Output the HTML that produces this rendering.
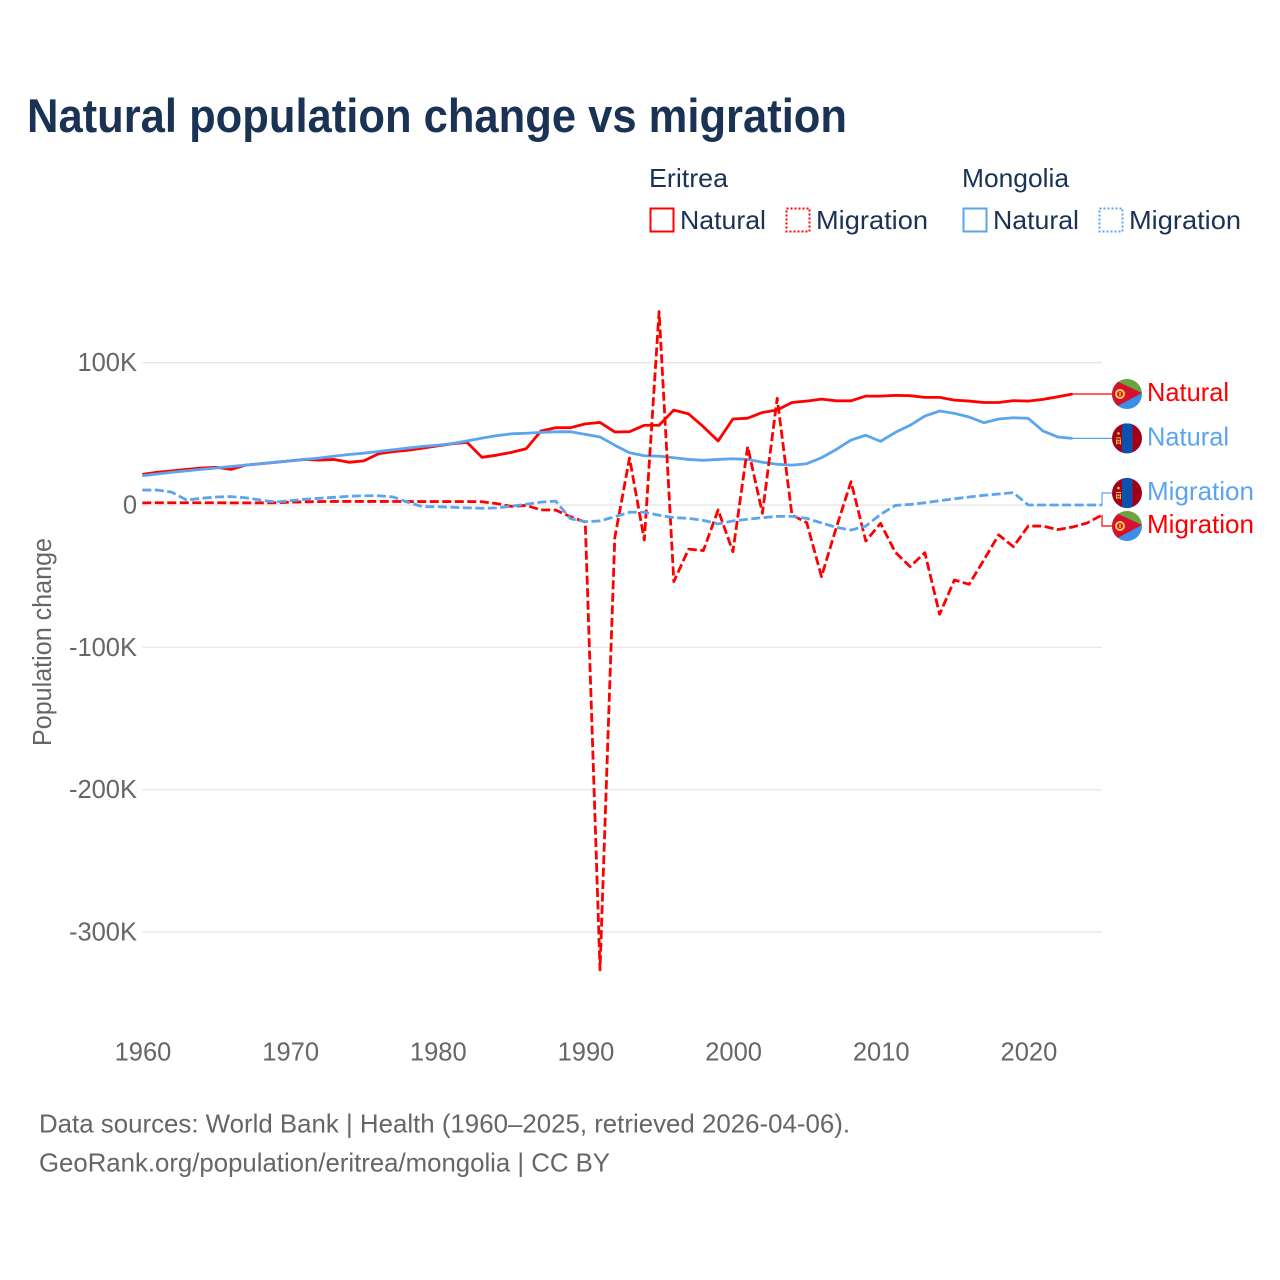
<!DOCTYPE html>
<html lang="en">
<head>
<meta charset="utf-8">
<title>Natural population change vs migration</title>
<style>
html,body{margin:0;padding:0;background:#fff;}
svg{display:block;font-family:"Liberation Sans",sans-serif;}
.legend-text{font-size:26px;fill:#1a3354;}
.tick{font-size:25.5px;fill:#666;}
.src{font-size:26px;fill:#666;}
</style>
</head>
<body>
<svg id="chart" xmlns="http://www.w3.org/2000/svg" width="1280" height="1280" viewBox="0 0 1280 1280">
  <defs>
    <clipPath id="flag-clip"><circle cx="0" cy="0" r="15"/></clipPath>
    <g id="flag-er" clip-path="url(#flag-clip)">
      <rect x="-15" y="-15" width="30" height="15" fill="#6aa33f"/>
      <rect x="-15" y="0" width="30" height="15" fill="#3a8fe8"/>
      <polygon points="-15,-15 15,-1 -15,15" fill="#d8102f"/>
      <circle cx="-7" cy="0" r="4" fill="none" stroke="#f7ce46" stroke-width="2"/>
      <rect x="-7.7" y="-2" width="1.4" height="4" fill="#f7ce46"/>
    </g>
    <g id="flag-mn" clip-path="url(#flag-clip)">
      <rect x="-15" y="-15" width="30" height="30" fill="#a20018"/>
      <rect x="-5" y="-15" width="10.5" height="30" fill="#0a52ad"/>
      <rect x="-11" y="-1" width="5" height="1" fill="#f5c542"/>
      <rect x="-11" y="1" width="1.2" height="5" fill="#f5c542"/>
      <rect x="-7.2" y="1" width="1.2" height="5" fill="#f5c542"/>
      <rect x="-9.4" y="1.5" width="1.8" height="1.4" fill="#f5c542"/>
      <rect x="-9.4" y="4" width="1.8" height="1.4" fill="#f5c542"/>
      <circle cx="-8.5" cy="-5" r="1.3" fill="#f5c542"/>
    </g>
  </defs>

  <text x="27" y="132" font-size="47" font-weight="700" fill="#1a3354" textLength="820" lengthAdjust="spacingAndGlyphs">Natural population change vs migration</text>

  <g>
    <text class="legend-text" x="649" y="187" textLength="79" lengthAdjust="spacingAndGlyphs">Eritrea</text>
    <text class="legend-text" x="962" y="187" textLength="107" lengthAdjust="spacingAndGlyphs">Mongolia</text>

    <rect x="650.5" y="208.5" width="23" height="23" fill="none" stroke="#ff0000" stroke-width="2"/>
    <text class="legend-text" x="680" y="229" textLength="86" lengthAdjust="spacingAndGlyphs">Natural</text>
    <rect x="786.5" y="208.5" width="23" height="23" fill="none" stroke="#ff0000" stroke-width="2" stroke-dasharray="2 2"/>
    <text class="legend-text" x="816" y="229" textLength="112" lengthAdjust="spacingAndGlyphs">Migration</text>

    <rect x="963.5" y="208.5" width="23" height="23" fill="none" stroke="#5ba4ee" stroke-width="2"/>
    <text class="legend-text" x="993" y="229" textLength="86" lengthAdjust="spacingAndGlyphs">Natural</text>
    <rect x="1099.5" y="208.5" width="23" height="23" fill="none" stroke="#5ba4ee" stroke-width="2" stroke-dasharray="2 2"/>
    <text class="legend-text" x="1129" y="229" textLength="112" lengthAdjust="spacingAndGlyphs">Migration</text>
  </g>

  <text class="tick" transform="translate(51 642) rotate(-90)" text-anchor="middle" textLength="208" lengthAdjust="spacingAndGlyphs">Population change</text>

  <g id="grid"></g>
  <g id="y-ticks"></g>
  <g id="x-ticks"></g>
  <g id="series"></g>
  <g id="labels"></g>

  <text class="src" x="39" y="1132.5" textLength="811" lengthAdjust="spacingAndGlyphs">Data sources: World Bank | Health (1960–2025, retrieved 2026-04-06).</text>
  <text class="src" x="39" y="1171.5" textLength="571" lengthAdjust="spacingAndGlyphs">GeoRank.org/population/eritrea/mongolia | CC BY</text>
</svg>

<script>
const firstYear = 1960;
const xTickYears = [1960, 1970, 1980, 1990, 2000, 2010, 2020];
const yTickValues = [100, 0, -100, -200, -300];
const yTickLabels = ['100K', '0', '-100K', '-200K', '-300K'];

const eritreaNatural = [
  21.5,23,24,25,26,26.5,25,28,29,30,
  31,32,31.5,32,30,31,36,37.5,38.5,40,
  41.5,43,44,33.5,35,37,39.5,52,54.3,54.3,
  57,58,51.3,51.5,56,56,66.7,64,55,45,
  60.4,61,65,66.7,72,73,74.4,73.2,73.2,76.5,
  76.5,77,76.8,75.6,75.6,73.7,73,72,72,73.3,
  73,74.2,76,78
];
const mongoliaNatural = [
  20.6,21.8,23,24,25,26,27,28,29,30,
  31,32,33,34.3,35.5,36.4,37.6,38.8,40,41.2,
  42,43.2,45,47,48.7,50,50.4,51,51.4,51.5,
  49.6,47.8,42,36.7,34.6,34.3,33.2,32,31.4,32,
  32.5,32,30,28.6,28,29,33.2,39,45.6,49,
  44.7,51,56,62.5,66,64.4,61.8,57.8,60.4,61.3,
  60.9,52,47.8,46.8
];
const eritreaMigration = [
  1.5,1.6,1.6,1.6,1.6,1.6,1.5,1.5,1.5,1.6,
  2,2.2,2.4,2.5,2.5,2.5,2.5,2.5,2.4,2.4,
  2.4,2.4,2.4,2.3,1,-1,-0.3,-3.4,-3.6,-8.2,
  -12,-326.5,-23,33,-24.6,135.8,-53.8,-31,-32,-3.5,
  -32.8,41,-5.8,75,-7,-12.4,-50.3,-16,16.4,-25.3,
  -12.9,-33.2,-43.3,-33.5,-76.8,-52.7,-55.7,-38.6,-21,-29.3,
  -14.8,-14.8,-17.3,-15.5,-12.6,-7
];
const mongoliaMigration = [
  10.5,10.5,9,3.5,4.7,5.6,5.9,5.1,3.5,2.1,
  3,4,4.7,5.4,6.1,6.5,6.5,5.6,1.9,-1.2,
  -1.2,-1.6,-2,-2.3,-2,-0.8,0.5,2,2.7,-9.6,
  -11.7,-11.2,-8.2,-5.1,-5.1,-7.2,-8.9,-9.4,-10.8,-13.3,
  -11.2,-10,-8.9,-8,-8,-9.4,-12.6,-15.7,-17.6,-14.8,
  -6.6,-0.3,0.4,1.6,3,4.4,5.6,6.8,7.7,8.7,
  0,0,0,0,0,0
];

const NS = 'http://www.w3.org/2000/svg';
const RED = '#ff0000';
const BLUE = '#5ba4ee';
function xScale(year) { return 142.3 + (year - 1960) * 14.765; }
function yScale(v) { return 505 - v * 1.4235; }
function make(tag, parent) {
  const el = document.createElementNS(NS, tag);
  parent.appendChild(el);
  return el;
}
function linePath(values) {
  return values.map(function (v, i) {
    return (i ? 'L' : 'M') + xScale(firstYear + i).toFixed(2) + ' ' + yScale(v).toFixed(2);
  }).join(' ');
}

const gridG = document.getElementById('grid');
const yG = document.getElementById('y-ticks');
const xG = document.getElementById('x-ticks');
const seriesG = document.getElementById('series');
const labelsG = document.getElementById('labels');

yTickValues.forEach(function (v, i) {
  const ln = make('line', gridG);
  
  
  ln.setAttribute('x1', xScale(1960));
  ln.setAttribute('x2', xScale(2025));
  ln.setAttribute('y1', yScale(v));
  ln.setAttribute('y2', yScale(v));
  ln.setAttribute('stroke', '#e8e8e8');
  ln.setAttribute('stroke-width', '1.5');
  const t = make('text', yG);
  
  
  t.setAttribute('class', 'tick');
  t.setAttribute('x', 137);
  t.setAttribute('y', yScale(v) + 8.5);
  t.setAttribute('text-anchor', 'end');
  t.textContent = yTickLabels[i];
});

xTickYears.forEach(function (yr) {
  const t = make('text', xG);
  
  
  t.setAttribute('class', 'tick');
  t.setAttribute('x', xScale(yr) + 0.7);
  t.setAttribute('y', 1060.5);
  t.setAttribute('text-anchor', 'middle');
  t.textContent = yr;
});

function drawSeries(values, color, dashed, name) {
  const p = make('path', seriesG);
  
  
  p.setAttribute('d', linePath(values));
  p.setAttribute('fill', 'none');
  p.setAttribute('stroke', color);
  p.setAttribute('stroke-width', '2.8');
  p.setAttribute('stroke-linejoin', 'round');
  if (dashed) { p.setAttribute('stroke-dasharray', '9 3.5'); }
}
drawSeries(eritreaNatural, RED, false, 'line-eritrea-natural');
drawSeries(mongoliaNatural, BLUE, false, 'line-mongolia-natural');
drawSeries(eritreaMigration, RED, true, 'line-eritrea-migration');
drawSeries(mongoliaMigration, BLUE, true, 'line-mongolia-migration');

function drawLabel(values, color, flag, text, width, slotY, name) {
  const lastX = xScale(firstYear + values.length - 1);
  const lastY = yScale(values[values.length - 1]);
  const labelY = slotY === null ? lastY : slotY;
  const lead = make('path', labelsG);
  
  
  lead.setAttribute('d', 'M' + lastX + ' ' + lastY + ' V' + labelY + ' H1112');
  lead.setAttribute('fill', 'none');
  lead.setAttribute('stroke', color);
  lead.setAttribute('stroke-width', '1.2');
  const f = make('use', labelsG);
  
  
  f.setAttribute('href', flag);
  f.setAttribute('transform', 'translate(1127 ' + labelY + ')');
  const t = make('text', labelsG);
  
  
  t.setAttribute('x', 1147);
  t.setAttribute('y', labelY + 7);
  t.setAttribute('font-size', '26');
  t.setAttribute('fill', color);
  t.setAttribute('textLength', width);
  t.setAttribute('lengthAdjust', 'spacingAndGlyphs');
  t.textContent = text;
}
drawLabel(eritreaNatural, RED, '#flag-er', 'Natural', 82, null, 'eritrea-natural');
drawLabel(mongoliaNatural, BLUE, '#flag-mn', 'Natural', 82, null, 'mongolia-natural');
drawLabel(mongoliaMigration, BLUE, '#flag-mn', 'Migration', 107, 493, 'mongolia-migration');
drawLabel(eritreaMigration, RED, '#flag-er', 'Migration', 107, 526, 'eritrea-migration');
</script>
</body>
</html>
